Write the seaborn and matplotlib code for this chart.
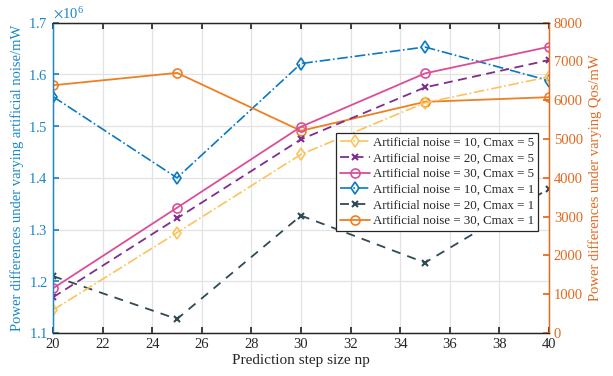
import numpy as np
import pandas as pd
import seaborn as sns
import matplotlib.pyplot as plt

# Prediction step sizes
steps = [20, 25, 30, 35, 40]

# Cmax = 5 series (right axis, mW)
noise10_cmax5 = [593, 2585, 4606, 5936, 6606]
noise20_cmax5 = [920, 2956, 4992, 6332, 7036]
noise30_cmax5 = [1152, 3229, 5317, 6693, 7379]

# Cmax = 1 series (left axis, mW)
noise10_cmax1 = [1.557e6, 1.400e6, 1.621e6, 1.653e6, 1.588e6]
noise20_cmax1 = [1.210e6, 1.127e6, 1.327e6, 1.236e6, 1.379e6]
noise30_cmax1 = [1.579e6, 1.603e6, 1.491e6, 1.547e6, 1.556e6]

LEFT_C = '#1A86C8'
RIGHT_C = '#E2691F'


def main():
    sns.set_theme(style='ticks')
    plt.rcParams['font.family'] = ['Liberation Serif', 'DejaVu Serif']
    plt.rcParams['mathtext.fontset'] = 'stix'

    fig = plt.figure(figsize=(6.13, 3.76), dpi=100)
    ax = fig.add_axes([0.0865, 0.1144, 0.809, 0.8252])
    ax2 = ax.twinx()

    # right axis series
    sns.lineplot(x=steps, y=noise10_cmax5, ax=ax2, color='#FDC35B', linestyle='-.',
                 marker='d', markersize=6.5, markerfacecolor='none', markeredgecolor='#FDC35B',
                 markeredgewidth=1.2, lw=1.2, label='Artificial noise = 10, Cmax = 5')
    sns.lineplot(x=steps, y=noise20_cmax5, ax=ax2, color='#7E2F8E', linestyle=(0, (5, 3)),
                 marker='x', markersize=4.5, markeredgecolor='#7E2F8E', markeredgewidth=1.5,
                 lw=1.3, label='Artificial noise = 20, Cmax = 5')
    sns.lineplot(x=steps, y=noise30_cmax5, ax=ax2, color='#DB4E97', linestyle='-',
                 marker='o', markersize=6.5, markerfacecolor='none', markeredgecolor='#DB4E97',
                 markeredgewidth=1.2, lw=1.3, label='Artificial noise = 30, Cmax = 5')

    # left axis series
    sns.lineplot(x=steps, y=noise10_cmax1, ax=ax, color='#0A78C2', linestyle='-.',
                 marker='d', markersize=6.5, markerfacecolor='none', markeredgecolor='#0A78C2',
                 markeredgewidth=1.2, lw=1.2, label='Artificial noise = 10, Cmax = 1')
    sns.lineplot(x=steps, y=noise20_cmax1, ax=ax, color='#2F4A55', linestyle=(0, (5, 4)),
                 marker='x', markersize=4.5, markeredgecolor='#2F4A55', markeredgewidth=1.5,
                 lw=1.3, label='Artificial noise = 20, Cmax = 1')
    sns.lineplot(x=steps, y=noise30_cmax1, ax=ax, color='#EE7F22', linestyle='-',
                 marker='o', markersize=6.5, markerfacecolor='none', markeredgecolor='#EE7F22',
                 markeredgewidth=1.2, lw=1.3, label='Artificial noise = 30, Cmax = 1')

    ax.set_xlim(20, 40)
    ax.set_xticks(range(20, 41, 2))
    ax.set_ylim(1.1e6, 1.7e6)
    ax.set_yticks(np.arange(1.1e6, 1.70001e6, 0.1e6))
    ax.ticklabel_format(axis='y', style='sci', scilimits=(6, 6), useMathText=True)
    ax.yaxis.get_offset_text().set_color(LEFT_C)
    ax.yaxis.get_offset_text().set_fontsize(10.5)
    ax2.set_ylim(0, 8000)
    ax2.set_yticks(range(0, 8001, 1000))

    ax.grid(True, color='#E3E3E3', lw=0.9)
    ax.set_axisbelow(True)

    ax.set_xlabel('Prediction step size np', fontsize=11, labelpad=2)
    ax.set_ylabel('Power differences under varying artificial noise/mW',
                  fontsize=10.5, color=LEFT_C, labelpad=3)
    ax2.set_ylabel('Power differences under varying Qos/mW',
                   fontsize=10.5, color=RIGHT_C, labelpad=4)

    ax.tick_params(axis='x', direction='in', top=True, labelsize=10.5, colors='#262626', length=4)
    ax.tick_params(axis='y', direction='in', labelsize=10.5, colors=LEFT_C, length=4)
    ax2.tick_params(axis='y', direction='in', labelsize=10.5, colors=RIGHT_C, length=4)

    for s in ['top', 'bottom']:
        ax.spines[s].set_color('#262626')
        ax2.spines[s].set_color('#262626')
    ax.spines['left'].set_color(LEFT_C)
    ax2.spines['left'].set_color(LEFT_C)
    ax2.spines['right'].set_color(RIGHT_C)
    ax.spines['right'].set_color(RIGHT_C)
    for sp in list(ax.spines.values()) + list(ax2.spines.values()):
        sp.set_linewidth(0.9)

    h1, l1 = ax2.get_legend_handles_labels()
    h2, l2 = ax.get_legend_handles_labels()
    if ax.get_legend():
        ax.get_legend().remove()
    if ax2.get_legend():
        ax2.get_legend().remove()
    leg = ax2.legend(h1 + h2, l1 + l2, loc='lower right', bbox_to_anchor=(0.978, 0.329),
                     fontsize=9.3, frameon=True, fancybox=False, edgecolor='#262626',
                     framealpha=1, handlelength=2.3, borderpad=0.3, labelspacing=0.28,
                     handletextpad=0.25, borderaxespad=0)
    leg.get_frame().set_linewidth(0.9)

    plt.savefig('out.png', dpi=100)


if __name__ == '__main__':
    main()
